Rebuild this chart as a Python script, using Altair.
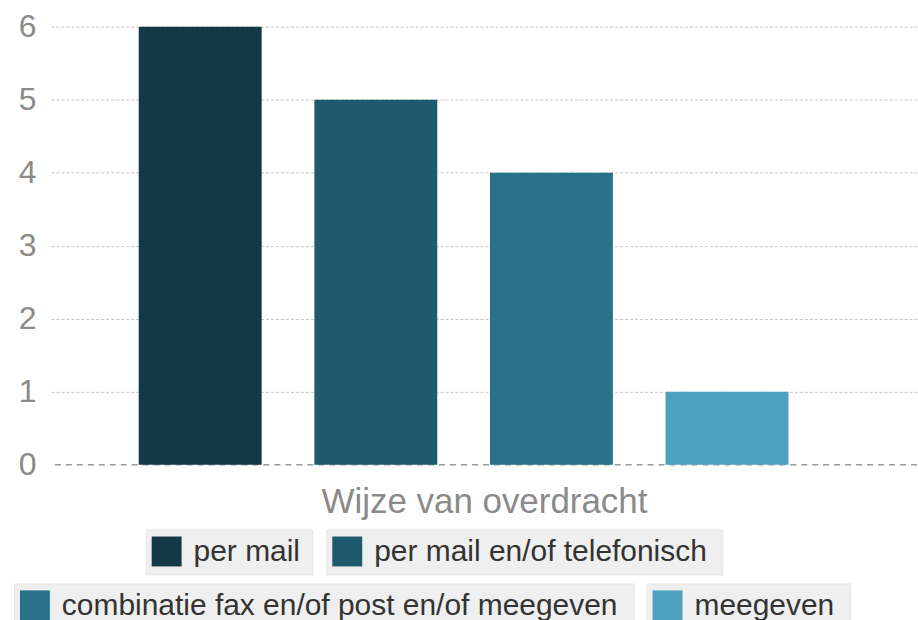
import altair as alt
import pandas as pd

categories = ["per mail", "per mail en/of telefonisch", "combinatie fax en/of post en/of meegeven", "meegeven"]
values = [6, 5, 4, 1]
colors = ["#143846", "#1f5b6e", "#277189", "#4ea0bf"]
y_ticks = [0, 1, 2, 3, 4, 5, 6]
zero_line = [0]

df = pd.DataFrame({"cat": categories, "val": values})
zdf = pd.DataFrame({"y": zero_line})

FONT = "Liberation Sans"
color_scale = alt.Scale(domain=categories, range=colors)

bars = alt.Chart(df).mark_bar().encode(
    x=alt.X("cat:N", sort=categories, title="Wijze van overdracht",
            scale=alt.Scale(paddingInner=0.30, paddingOuter=0.616, align=0.406),
            axis=alt.Axis(labels=False, ticks=False, domain=False, titleFontSize=35,
                          titleFont=FONT, titleFontWeight="normal", titleColor="#8a8a8a",
                          titlePadding=20)),
    y=alt.Y("val:Q", title=None, scale=alt.Scale(domain=[0, 6], nice=False),
            axis=alt.Axis(values=y_ticks, format="d", ticks=False, domain=False, labelFontSize=32,
                          labelFont=FONT, labelColor="#8a8a8a", labelPadding=15,
                          gridColor="#c4c4c4", gridDash=[3, 2], gridWidth=1,
                          gridOpacity=alt.condition("datum.value === 0", alt.value(0), alt.value(1)))),
    color=alt.Color("cat:N", scale=color_scale, legend=None),
)

zero = alt.Chart(zdf).mark_rule(color="#9a9a9a", strokeDash=[6, 5], strokeWidth=1.5).encode(
    y=alt.Y("y:Q"),
)

main = alt.layer(zero, bars).properties(width=868, height=439)


def spacer(w, h):
    return alt.Chart(pd.DataFrame({"a": [0]})).mark_point(opacity=0).encode(
        x=alt.value(0), y=alt.value(0)
    ).properties(width=w, height=h, view=alt.ViewBackground(stroke=None))


def legend_item(cat, w):
    base = alt.Chart(df).transform_filter(alt.datum.cat == cat)
    sw = base.mark_square(size=900, opacity=1).encode(
        x=alt.value(21), y=alt.value(22),
        color=alt.Color("cat:N", scale=color_scale, legend=None),
    )
    tx = base.mark_text(align="left", baseline="middle", fontSize=30, font=FONT, color="#333333").encode(
        x=alt.value(48), y=alt.value(23), text="cat:N",
    )
    return alt.layer(sw, tx).properties(
        width=w, height=45,
        view=alt.ViewBackground(fill="#efefef", stroke="#e6e6e6"),
    )


top = alt.hconcat(spacer(1, 439), main, spacing=1)
row1 = alt.hconcat(spacer(119, 45), legend_item(categories[0], 167), legend_item(categories[1], 397), spacing=12)
row2 = alt.hconcat(legend_item(categories[2], 621), legend_item(categories[3], 204), spacing=11)

chart = alt.vconcat(top, row1, row2, spacing=7).properties(
    padding={"left": 11, "top": 10, "right": 0, "bottom": 0},
).configure_view(stroke=None)

chart.save("out.html", embed_options={"renderer": "svg", "actions": False})
